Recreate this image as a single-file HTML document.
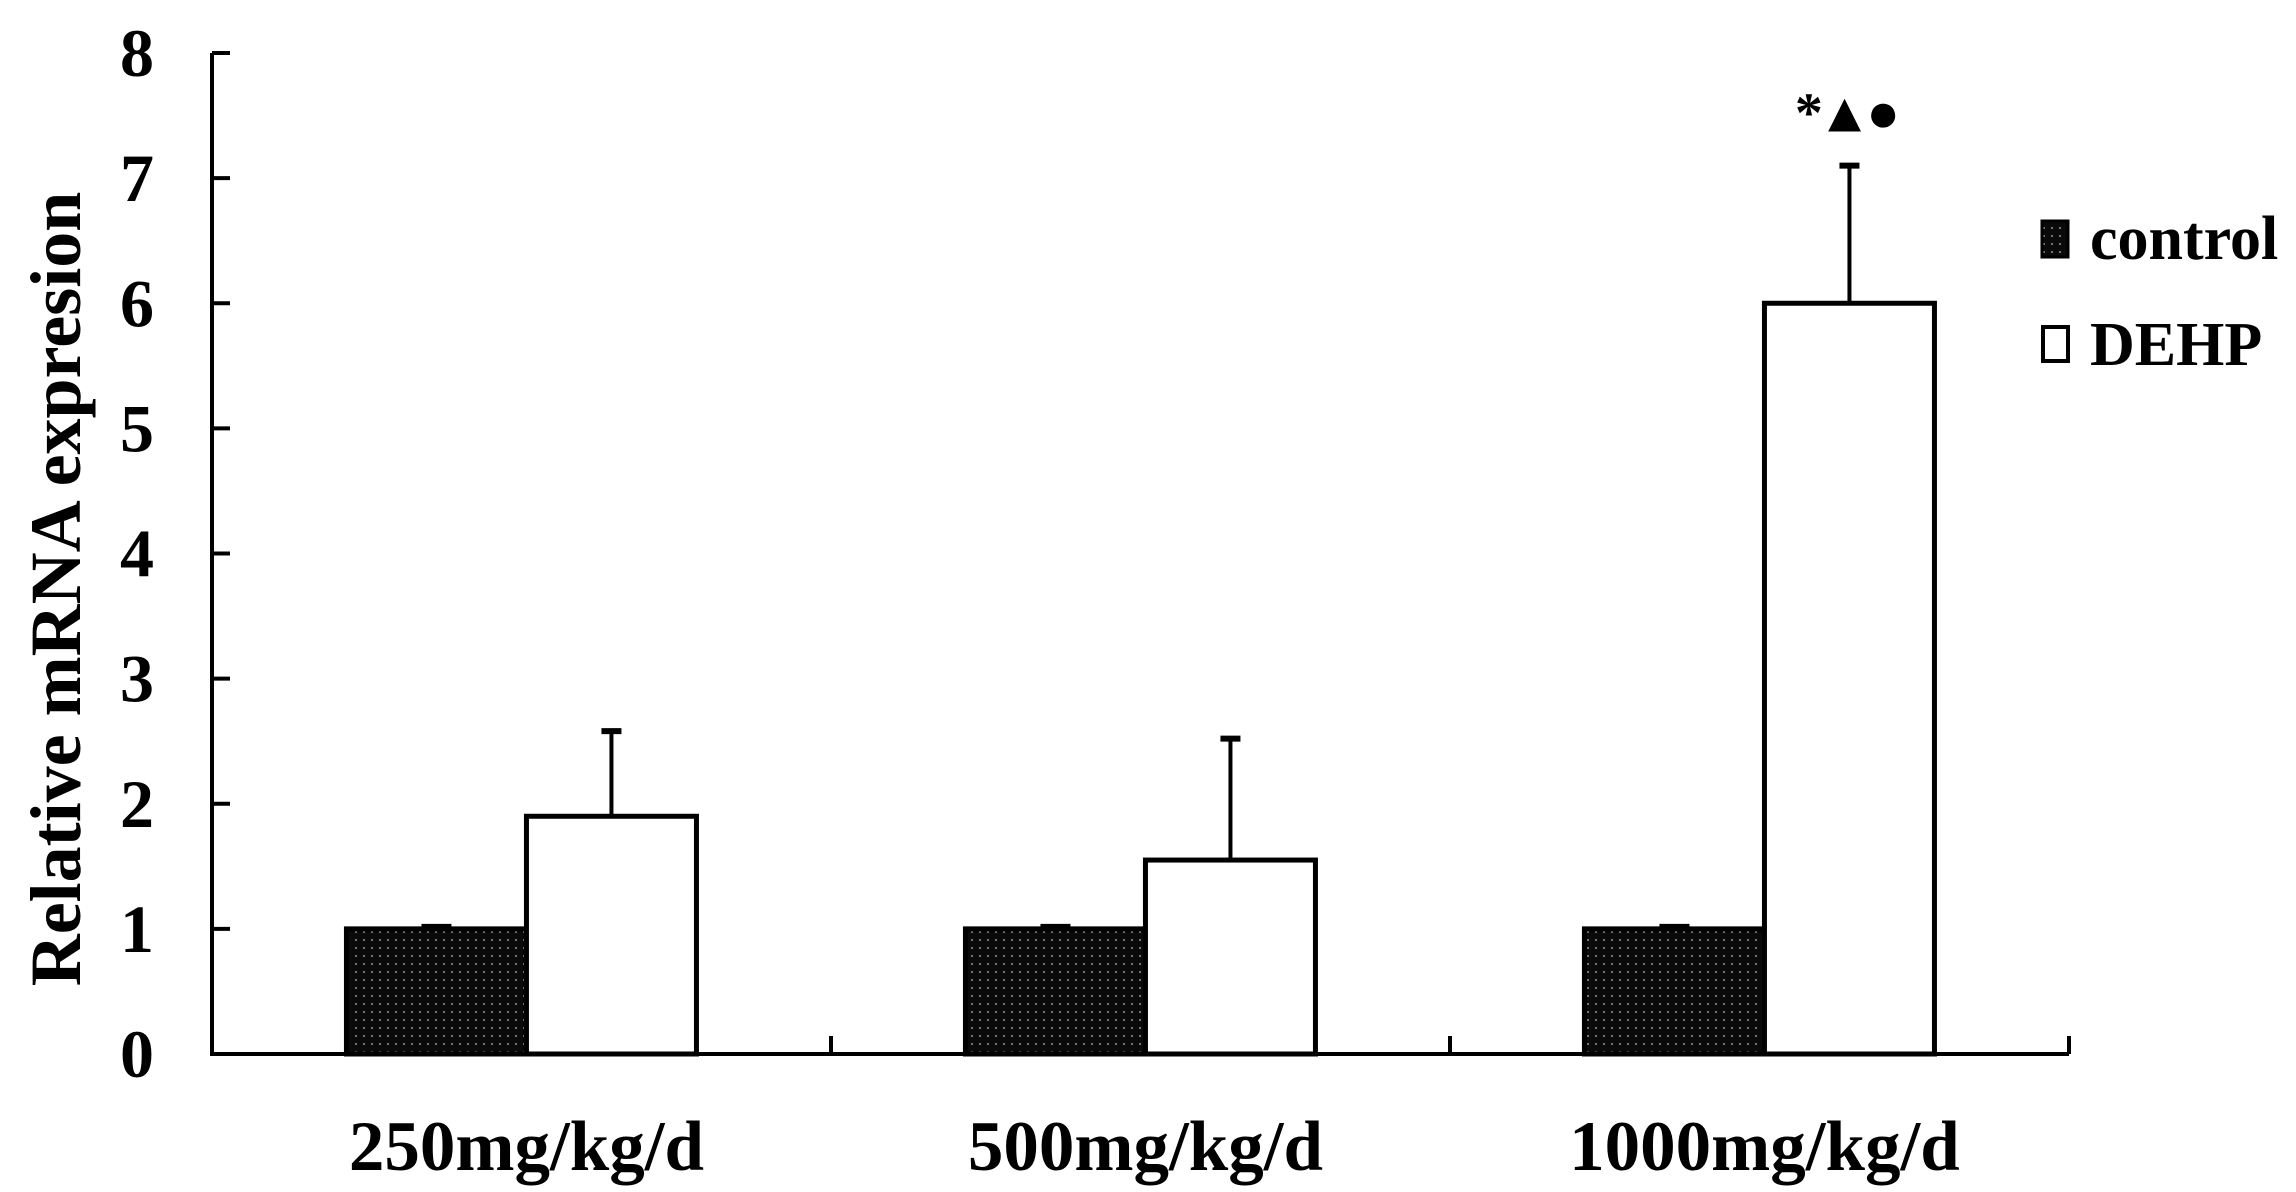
<!DOCTYPE html>
<html><head><meta charset="utf-8"><style>
html,body{margin:0;padding:0;background:#fff;}
svg{display:block;font-family:"Liberation Serif",serif;font-weight:bold;}
</style></head><body>
<svg id="chart" width="2296" height="1192" viewBox="0 0 2296 1192">
<defs>
<pattern id="dots" width="8" height="8" patternUnits="userSpaceOnUse">
<rect width="8" height="8" fill="#0a0a0a"/><rect x="3" y="3" width="2" height="2" fill="#777"/>
</pattern>
</defs>
<g id="plot"></g>
</svg>
<script>
const categories = ["250mg/kg/d","500mg/kg/d","1000mg/kg/d"];
const controlValues = [1.0, 1.0, 1.0];
const controlErrors = [0.02, 0.02, 0.02];
const dehpValues = [1.9, 1.55, 6.0];
const dehpErrors = [0.68, 0.97, 1.1];
const yTicks = [0,1,2,3,4,5,6,7,8];
const annotations = ["", "", "*▲●"];

const NS = "http://www.w3.org/2000/svg";
const g = document.getElementById('plot');
const X0 = 212, X1 = 2069, Y0 = 1054, YTOP = 53, YMAX = 8;
const y = v => Y0 - (v / YMAX) * (Y0 - YTOP);
const groupW = (X1 - X0) / categories.length;
const gx = i => X0 + groupW * i;
function el(tag, attrs, text){ const e=document.createElementNS(NS,tag); for(const k in attrs) e.setAttribute(k,attrs[k]); if(text!==undefined) e.textContent=text; g.appendChild(e); return e; }

let a = el('line',{x1:X0,y1:YTOP,x2:X0,y2:Y0+2,stroke:'#000','stroke-width':4});
 
a = el('line',{x1:X0-2,y1:Y0,x2:X1,y2:Y0,stroke:'#000','stroke-width':4});
 

yTicks.forEach(t=>{
  const tk = el('line',{x1:X0,y1:y(t),x2:X0+18,y2:y(t),stroke:'#000','stroke-width':4});
   
  const lb = el('text',{x:154,y:y(t)+23,'text-anchor':'end','font-size':68},String(t));
   
});
for(let i=1;i<=categories.length;i++){
  const tk = el('line',{x1:gx(i),y1:Y0,x2:gx(i),y2:Y0-18,stroke:'#000','stroke-width':4});
   
}

const yt = el('text',{x:0,y:0,'text-anchor':'middle','font-size':72,transform:'translate(80,589) rotate(-90)'},'Relative mRNA expresion');
 

const cW = 180, dW = 170;
categories.forEach((c,i)=>{
  const mid = gx(i) + groupW*0.508;
  const cx = mid - cW, dx = mid;
  const eb1 = el('line',{x1:cx+cW/2-15,y1:y(controlValues[i]+controlErrors[i]),x2:cx+cW/2+15,y2:y(controlValues[i]+controlErrors[i]),stroke:'#000','stroke-width':5});
   
  const b1 = el('rect',{x:cx,y:y(controlValues[i]),width:cW,height:Y0-y(controlValues[i]),fill:'url(#dots)',stroke:'#000','stroke-width':5});
   
  const top = y(dehpValues[i]+dehpErrors[i]);
  const ev = el('line',{x1:dx+dW/2,y1:top,x2:dx+dW/2,y2:y(dehpValues[i]),stroke:'#000','stroke-width':4});
   
  const ec = el('line',{x1:dx+dW/2-10,y1:top,x2:dx+dW/2+10,y2:top,stroke:'#000','stroke-width':6});
   
  const b2 = el('rect',{x:dx,y:y(dehpValues[i]),width:dW,height:Y0-y(dehpValues[i]),fill:'#fff',stroke:'#000','stroke-width':5});
   
  if(annotations[i]){
    const an = el('text',{x:dx+dW/2-5,y:top-34,'text-anchor':'middle','font-size':56,'letter-spacing':-6},annotations[i]);
     
  }
  const xl = el('text',{x:mid,y:1170,'text-anchor':'middle','font-size':71},c);
   
});

let r = el('rect',{x:2042,y:221,width:26,height:36,fill:'url(#dots)',stroke:'#000','stroke-width':3});
 
let t = el('text',{x:2090,y:259,'font-size':62},'control');
 
r = el('rect',{x:2043,y:327,width:25,height:34,fill:'#fff',stroke:'#000','stroke-width':4});
 
t = el('text',{x:2090,y:365,'font-size':62},'DEHP');
 
</script>
</body></html>
